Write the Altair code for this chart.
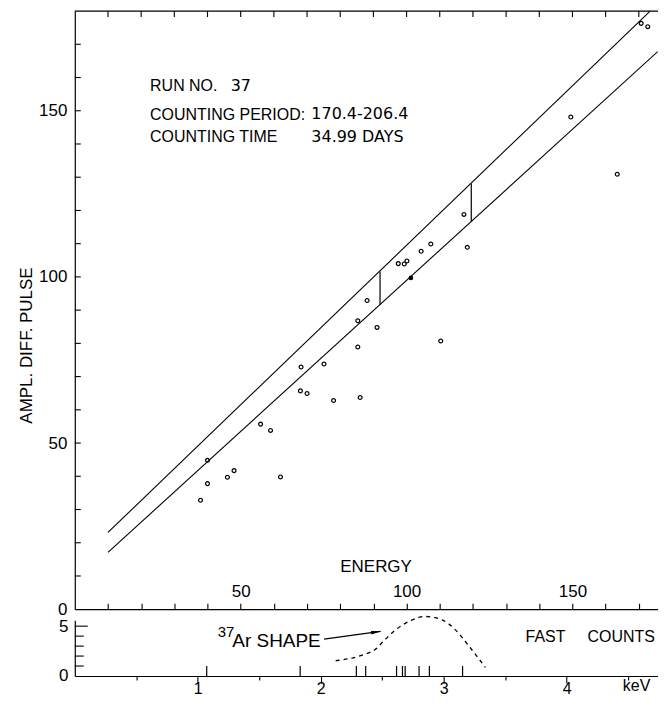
import altair as alt
import pandas as pd

# ---------------- data ----------------
# open circles (energy units, amplitude)
pt_energy = [37.9, 40.0, 40.0, 46.0, 48.0, 56.0, 59.0, 62.0, 68.0, 68.2, 70.0, 75.1, 78.0,
             85.3, 85.3, 86.0, 88.1, 91.1, 97.5, 99.3, 100.1, 104.4, 107.3, 110.3, 117.3,
             118.3, 149.5, 163.5, 170.7, 172.7]
pt_ampl = [32.8, 37.8, 44.8, 39.7, 41.7, 55.7, 53.8, 39.8, 65.7, 72.9, 64.9, 73.8, 62.8,
           78.9, 86.8, 63.7, 92.9, 84.8, 104.0, 103.9, 104.8, 107.7, 109.9, 80.7, 118.8,
           108.9, 148.1, 130.9, 176.3, 175.3]
# filled point
filled_energy = [101.3]
filled_ampl = [99.7]

# band lines
band_series = ["upper", "upper", "lower", "lower"]
band_energy = [10.0, 173.4, 10.0, 175.7]
band_ampl = [23.1, 180.0, 17.1, 167.8]

# vertical window markers
win_energy = [92.0, 119.5]
win_lo = [91.6, 116.6]
win_hi = [101.6, 128.1]

# 37Ar shape (keV, counts)
shape_kev = [2.122, 2.338, 2.447, 2.514, 2.609, 2.717, 2.852, 2.987, 3.096, 3.204, 3.339]
shape_val = [1.53, 2.10, 2.70, 3.53, 4.63, 5.47, 5.97, 5.63, 4.63, 3.03, 0.87]

# fast-count events (keV)
event_kev = [1.073, 1.833, 2.290, 2.366, 2.617, 2.665, 2.687, 2.800, 2.884, 3.154]

# axis ticks
energy_ticks = list(range(10, 171, 10))
ampl_ticks = list(range(10, 171, 10))
kev_ticks = [0.5, 1, 1.5, 2, 2.5, 3, 3.5, 4, 4.5]
lower_minor = [1, 2, 3, 4]
lower_major = [5]

# annotation texts
info_text = ["RUN NO.", "COUNTING PERIOD:", "COUNTING TIME"]
info_e = [22.7, 22.7, 22.7]
info_a = [156.0, 147.2, 140.5]
num_text = ["37", "170.4-206.4", "34.99 DAYS"]
num_e = [47.0, 71.3, 71.3]
num_a = [156.0, 147.5, 140.7]

# ---------------- scales / axes ----------------
FONT = "Liberation Sans"
PW = 585                 # plot width in px
E_MAX = PW / 3.328       # energy units across the plot
K_MAX = PW / 123.33      # keV across the plot

E_s = alt.Scale(domain=[0, E_MAX], range=[0, PW], nice=False, zero=False)
A_s = alt.Scale(domain=[0, 180], range=[600, 0], nice=False, zero=False)
K_s = alt.Scale(domain=[0, K_MAX], range=[0, PW], nice=False, zero=False)
L_s = alt.Scale(domain=[0, 5.6], range=[667, 611], nice=False, zero=False)

ax_E = alt.Axis(orient="top", offset=-600, values=energy_ticks,
                labelExpr="datum.value % 50 === 0 ? datum.label : ''",
                tickSize=6, labelPadding=7, labelBaseline="alphabetic", labelFontSize=17,
                labelAngle=0, title="ENERGY", titleX=301.7, titleY=-38,
                titleBaseline="alphabetic", titleAlign="center", titleFontSize=17)
ax_A = alt.Axis(orient="left", values=[0, 50, 100, 150], ticks=False, tickSize=0,
                labelPadding=8, labelFontSize=17, title="AMPL. DIFF. PULSE",
                titleAngle=270, titleX=-43, titleY=335, titleBaseline="alphabetic",
                titleAlign="center", titleFontSize=17)
ax_K = alt.Axis(orient="bottom", values=kev_ticks,
                labelExpr="datum.value === 4.5 ? 'keV' : (datum.value % 1 === 0 ? format(datum.value, 'd') : '')",
                tickSize={"condition": {"test": "datum.value % 1 === 0", "value": 7}, "value": 4},
                labelOffset={"condition": {"test": "datum.value === 4.5", "value": 8}, "value": 0},
                labelBaseline="alphabetic", labelPadding=11, labelFontSize=16, labelAngle=0,
                title=None)
ax_L = alt.Axis(orient="left", values=[0, 5], ticks=False, tickSize=0, labelPadding=7,
                labelFontSize=17, title=None)


def X(f):
    return alt.X(f, type="quantitative", scale=E_s, axis=ax_E)


def Y(f):
    return alt.Y(f, type="quantitative", scale=A_s, axis=ax_A)


def XK(f):
    return alt.X(f, type="quantitative", scale=K_s, axis=ax_K)


def YL(f):
    return alt.Y(f, type="quantitative", scale=L_s, axis=ax_L)


# ---------------- main panel ----------------
pts = pd.DataFrame({"E": pt_energy, "A": pt_ampl})
fil = pd.DataFrame({"E": filled_energy, "A": filled_ampl})
band = pd.DataFrame({"s": band_series, "E": band_energy, "A": band_ampl})
win = pd.DataFrame({"E": win_energy, "lo": win_lo, "hi": win_hi})
border = pd.DataFrame({"E0": [0.0], "E1": [E_MAX], "A": [180.0]})
etk = pd.DataFrame({"E": energy_ticks})
atk = pd.DataFrame({"A": ampl_ticks})
info = pd.DataFrame({"E": info_e, "A": info_a, "t": info_text})
nums = pd.DataFrame({"E": num_e, "A": num_a, "t": num_text})

points = alt.Chart(pts).mark_point(shape="circle", size=15, filled=False, color="black",
                                   strokeWidth=1.2, opacity=1).encode(x=X("E"), y=Y("A"))
filled = alt.Chart(fil).mark_point(shape="circle", size=22, filled=True, color="black",
                                   opacity=1).encode(x=X("E"), y=Y("A"))
lines = alt.Chart(band).mark_line(color="black", strokeWidth=1.1).encode(
    x=X("E"), y=Y("A"), detail="s:N")
wins = alt.Chart(win).mark_rule(color="black", strokeWidth=1.2).encode(
    x=X("E"), y=Y("lo"), y2="hi:Q")
top = alt.Chart(border).mark_rule(color="black", strokeWidth=1.2).encode(
    x=X("E0"), x2="E1:Q", y=Y("A"))
top_ticks = alt.Chart(etk).mark_rule(color="black", strokeWidth=1.1).encode(
    x=X("E"), y=alt.value(0), y2=alt.value(6))
left_ticks = alt.Chart(atk).mark_rule(color="black", strokeWidth=1.1).encode(
    y=Y("A"), x=alt.value(0), x2=alt.value(6))
info_t = alt.Chart(info).mark_text(align="left", baseline="alphabetic", font=FONT,
                                   fontSize=16, color="black").encode(x=X("E"), y=Y("A"), text="t:N")
nums_t = alt.Chart(nums).mark_text(align="left", baseline="alphabetic", font="DejaVu Sans",
                                   fontSize=16, color="black").encode(x=X("E"), y=Y("A"), text="t:N")

main = alt.layer(top, top_ticks, left_ticks, lines, wins, points, filled, info_t, nums_t)

# ---------------- lower panel ----------------
shape = pd.DataFrame({"k": shape_kev, "v": shape_val})
ev = pd.DataFrame({"k": event_kev, "y0": [0.0] * len(event_kev), "y1": [1.0] * len(event_kev)})
lmin = pd.DataFrame({"v": lower_minor})
lmaj = pd.DataFrame({"v": lower_major})
arrow = pd.DataFrame({"k0": [2.027], "k1": [2.487], "v0": [3.70], "v1": [4.47]})
arrow_head = pd.DataFrame({"k": [2.451], "v": [4.41]})
lbl_big = pd.DataFrame({"k": [1.281, 3.666, 4.17], "v": [2.87, 3.37, 3.37],
                        "t": ["Ar SHAPE", "FAST", "COUNTS"], "fs": [19, 16, 16]})
lbl_sup = pd.DataFrame({"k": [1.162], "v": [3.87], "t": ["37"]})

curve = alt.Chart(shape).mark_line(color="black", strokeWidth=1.3, strokeDash=[4, 4],
                                   interpolate="monotone").encode(x=XK("k"), y=YL("v"))
events = alt.Chart(ev).mark_rule(color="black", strokeWidth=1.2).encode(
    x=XK("k"), y=YL("y0"), y2="y1:Q")
minor_t = alt.Chart(lmin).mark_rule(color="black", strokeWidth=1.1).encode(
    y=YL("v"), x=alt.value(0), x2=alt.value(9))
major_t = alt.Chart(lmaj).mark_rule(color="black", strokeWidth=1.1).encode(
    y=YL("v"), x=alt.value(0), x2=alt.value(13))
arrow_l = alt.Chart(arrow).mark_rule(color="black", strokeWidth=1.2).encode(
    x=XK("k0"), x2="k1:Q", y=YL("v0"), y2="v1:Q")
arrow_h = alt.Chart(arrow_head).mark_point(shape="M -1 -0.35 L 1 0 L -1 0.35 Z", size=100,
                                           filled=True, color="black", opacity=1,
                                           strokeWidth=0.5, angle=352).encode(
    x=XK("k"), y=YL("v"))
big_t = alt.Chart(lbl_big).mark_text(align="left", baseline="alphabetic", font=FONT,
                                     color="black").encode(
    x=XK("k"), y=YL("v"), text="t:N", size=alt.Size("fs:Q", scale=None, legend=None))
sup_t = alt.Chart(lbl_sup).mark_text(align="left", baseline="alphabetic", font=FONT,
                                     fontSize=15, color="black").encode(
    x=XK("k"), y=YL("v"), text="t:N")

lower = alt.layer(minor_t, major_t, events, curve, arrow_l, arrow_h, big_t, sup_t)

chart = alt.layer(main, lower).resolve_scale(x="independent", y="independent").properties(
    width=PW, height=667,
    autosize=alt.AutoSizeParams(type="none"),
    padding={"left": 67, "top": 2, "right": 0, "bottom": 21},
    background="white",
).configure_view(stroke=None).configure_axis(
    labelFont=FONT, titleFont=FONT, labelColor="black", titleColor="black",
    domainColor="black", tickColor="black", domainWidth=1.2, tickWidth=1.1,
    titleFontWeight="normal", grid=False,
)

chart.save("out.html", embed_options={"renderer": "svg", "actions": False})
